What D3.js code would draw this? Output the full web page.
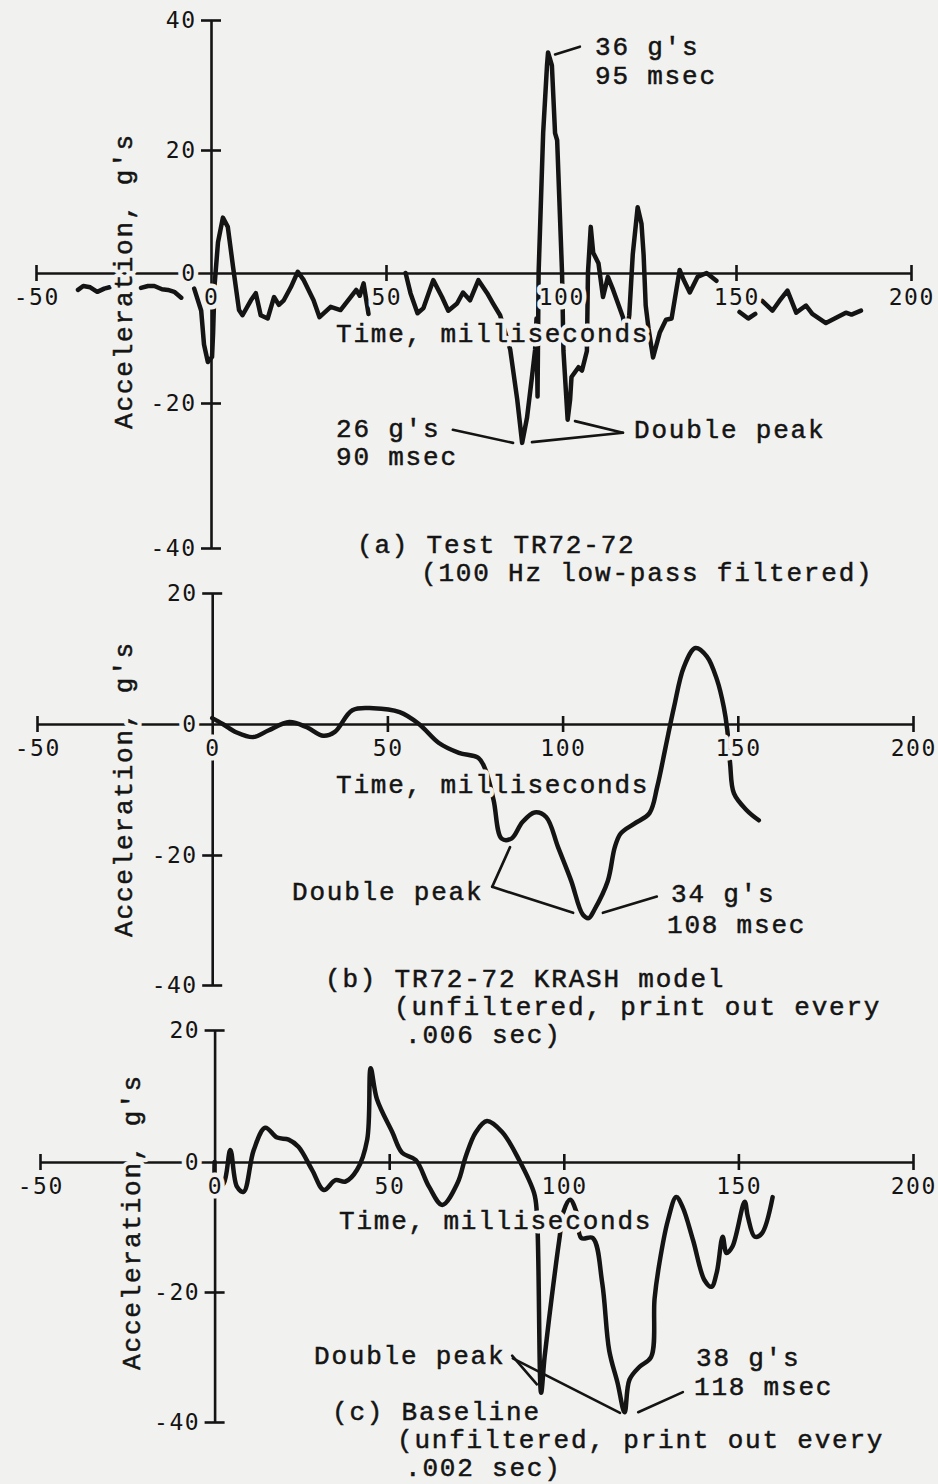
<!DOCTYPE html>
<html><head><meta charset="utf-8">
<script src="https://cdn.jsdelivr.net/npm/d3@7"></script>
<style>
html,body{margin:0;padding:0;background:#f1f1ef;}
svg{display:block;}
</style></head><body>
<svg id="chart" width="938" height="1484"></svg>
<script>
// ---------------- data ----------------
const xTickValues = [-50, 0, 50, 100, 150, 200];
const xTickLabels = ["-50", "0", "50", "100", "150", "200"];
const yTickValuesA = [40, 20, 0, -20, -40];
const yTickLabelsA = ["40", "20", "0", "-20", "-40"];
const yTickValuesBC = [20, 0, -20, -40];
const yTickLabelsBC = ["20", "0", "-20", "-40"];

const yTitle = "Acceleration, g's";
const xTitle = "Time, milliseconds";

// (a) Test TR72-72, null = pen lift
const timeA = [-38, -36.5, -34.5, -32.5, -30.5, -29, null,
  -20, -18, -16.2, -14, -12.3, -10.5, -8.5, null,
  -4.8, -2.8, -2.0, -0.9, 0.3, 0.6, 1.0, 2.0, 3.4, 4.8, 6.3, 8.0, 9.0, 11.4, 12.8, 14.2, 16.2, 18.0, 19.4, 20.8,
  22.8, 24.8, 26.5, 29.3, 31.0, 34.2, 37.0, 39.9, 41.5, 42.5, 43.6, 45.0, null,
  55.6, 57, 59, 60.7, 63.5, 66, 67.8, 70.3, 72, 74, 76.4, 78.9, 80.6, 82.6, 85.5, 87.5, 88.9, 90.3, 91.7, 92.6,
  93.0, 93.3, 93.6, 94.9, 96.0, 96.3, 97.4, 98.3, 98.9, 100.3, 100.7, 101.9, 102.6, 103, 105, 106, 107.4, 107.7,
  108.5, 109.2, 110.7, 112, 113.4, 114.9, 117.7, 118.6, 119.5, 120.5, 121.9, 123, 123.6, 124.2, 125, 126.3,
  128.2, 130, 131.6, 133.9, 135, 136.8, 139, 141.6, 144.4, null,
  151, 153.5, 155.5, null,
  157.5, 160.4, 162.4, 164.7, 167.2, 170, 171.8, 175.7, 178.6, 181.4, 183, 185.7];
const accelA = [-2.6, -2.0, -2.2, -2.9, -2.4, -2.2, null,
  -2.3, -2.0, -2.0, -2.5, -2.6, -2.9, -3.8, null,
  -2.4, -5.8, -11, -13.7, -12.9, -9.2, -2, 5, 9.0, 7.5, 1, -5.7, -6.5, -4.2, -3.1, -6.5, -7, -3.7, -4.9, -4.2,
  -2.2, 0.2, -1.1, -4.2, -6.8, -5.2, -5.7, -3.7, -2.6, -3.5, -1.6, -6.3, null,
  0, -3.1, -6.2, -5.4, -1.1, -3.7, -5.8, -4.7, -3, -4.2, -1.1, -3.1, -4.7, -6.5, -11.8, -19.5, -25.5, -22, -16, -11.8,
  -7, -19, 0, 22.6, 33, 35, 33, 22.6, 21.5, 0, -12, -22.3, -19.5, -16, -14.5, -15, -12, 0,
  7.5, 3.3, 1.6, -3.7, -0.6, -2.6, -6.8, -10, -6.5, 3, 10.7, 8, 3, -5, -8.5, -13,
  -9.2, -7.2, -7, 0.5, -1, -3, -0.6, 0, -1.2, null,
  -6, -7, -6.3, null,
  -4.3, -5.8, -4.3, -2.7, -6.1, -5, -6.3, -7.7, -6.9, -6.1, -6.4, -5.8];

// (b) TR72-72 KRASH model
const timeB = [0, 3, 7, 11.7, 16, 22, 27, 31.7, 35, 40, 46, 53.5, 59, 64.7, 70.4, 76, 78, 80.3, 82.6, 85.4, 88.5,
  92, 95.3, 98.7, 102.4, 105.8, 107.5, 109, 112.9, 114.9, 116.6, 120.5, 124.8, 127, 129.4, 131.8, 134.6, 137.9,
  141.2, 144.1, 146, 147, 147.8, 148.9, 152.6, 156];
const accelB = [0.9, 0, -1.3, -2, -1, 0.3, -0.5, -1.8, -1.2, 2.1, 2.4, 1.8, 0, -2.9, -4.4, -5.2, -7, -11.6, -17.5, -17.5, -15,
  -13.5, -14.2, -18.8, -23.9, -29.2, -29.7, -28.5, -24, -18.8, -16.7, -15.2, -13.6, -9.6, -3.5, 2.6, 8.7, 11.6,
  10.3, 6.7, 2.6, -0.9, -6, -10.6, -13.2, -14.7];

// (c) Baseline
const timeC = [0, 0.6, 2.6, 4.5, 6.4, 8.3, 11.2, 14.5, 17.9, 21.2, 24, 27.9, 31.3, 34.6, 37.5, 40.8, 43.7, 44.7, 46.5,
  50.9, 53.7, 57.6, 61.4, 65.2, 69.6, 71.9, 74.8, 78, 82.4, 87.2, 91.5, 92.3, 93.5, 94.5, 96.5, 98.7, 100, 101.8,
  103.5, 105, 108.3, 111, 113, 115.4, 117.4, 118.8, 121.7, 125, 126, 127.4, 129.8, 132.2, 134, 137, 140.3, 142.3,
  143.8, 145.5, 146.6, 148.3, 151.8, 152.7, 154.7, 156.7, 159.8];
const accelC = [0, -4, -3.3, 1.8, -3.8, -4.6, 1.8, 5.2, 3.7, 3.4, 2.3, -1.2, -4.3, -2.8, -3, -1.2, 3.4, 14.2, 9.5,
  4.5, 1.4, 0.3, -3.8, -6.6, -3.2, 0.8, 4.5, 6.2, 4.5, 0.3, -4.8, -8, -35.5, -30, -21, -12, -7.5, -5.8,
  -7.5, -11.7, -11.7, -18.6, -29, -34, -38.5, -33.5, -31.5, -30, -21, -15.5, -9, -5.4, -6.9, -12, -18.2, -19.2,
  -17, -11.5, -14, -13, -6.1, -8.4, -11.5, -11, -5.4];

// annotation texts
const notesA = ["36 g's", "95 msec", "26 g's", "90 msec", "Double peak"];
const captionA = ["(a) Test TR72-72", "(100 Hz low-pass filtered)"];
const notesB = ["Double peak", "34 g's", "108 msec"];
const captionB = ["(b) TR72-72 KRASH model", "(unfiltered, print out every", ".006 sec)"];
const notesC = ["Double peak", "38 g's", "118 msec"];
const captionC = ["(c) Baseline", "(unfiltered, print out every", ".002 sec)"];

// leader lines [t1, g1, t2, g2]
const leadersA = [[98.3, 34.7, 105.4, 35.9], [69.1, -23.7, 86.3, -25.5], [91.7, -25.4, 117.7, -24.1], [104, -22.5, 117.7, -24.1]];
const leadersB = [[79.9, -24.9, 85, -18.8], [79.9, -24.9, 103, -28.9], [111.5, -28.9, 126.9, -26.4]];
const leadersC = [[85.2, -29.8, 92.3, -34.2], [85.4, -30.2, 116.1, -38.6], [121.3, -38.5, 134.1, -35.4]];

// ---------------- layout ----------------
const BG = "#f1f1ef", INK = "#141414";
const monoFont = "'Liberation Mono', 'DejaVu Sans Mono', monospace";
const tickFont = "'DejaVu Sans Mono', monospace";
const TXT = { size: 26, ls: 1.8, family: monoFont };
const TCK = { size: 23, ls: 1.5, family: tickFont };

const panels = [
  { t: timeA, v: accelA, xr: [36, 911], yd: [-40, -20, 0, 20, 40], yr: [548, 403, 273, 150, 20],
    yTicks: yTickValuesA, yLabels: yTickLabelsA, curve: d3.curveLinear, lw: 4.5,
    yTitlePos: [132, 281], xTitlePos: [336, 342],
    notes: notesA, notePos: [[595, 55], [595, 84], [336, 437], [336, 465], [634, 438]],
    caption: captionA, capPos: [[357, 553], [421, 581]], leaders: leadersA },
  { t: timeB, v: accelB, xr: [37, 913], yd: [-40, -20, 0, 20], yr: [985, 855, 724, 593],
    yTicks: yTickValuesBC, yLabels: yTickLabelsBC, curve: d3.curveCatmullRom.alpha(0.5), lw: 4.5,
    yTitlePos: [132, 789], xTitlePos: [336, 793],
    notes: notesB, notePos: [[292, 900], [671, 902], [667, 933]],
    caption: captionB, capPos: [[325, 987], [394, 1015], [405, 1043]], leaders: leadersB },
  { t: timeC, v: accelC, xr: [40, 913], yd: [-40, -20, 0, 20], yr: [1422, 1292, 1162, 1030],
    yTicks: yTickValuesBC, yLabels: yTickLabelsBC, curve: d3.curveCatmullRom.alpha(0.5), lw: 4.5,
    yTitlePos: [140, 1222], xTitlePos: [339, 1229],
    notes: notesC, notePos: [[314, 1364], [696, 1366], [694, 1395]],
    caption: captionC, capPos: [[332, 1420], [397, 1448], [405, 1476]], leaders: leadersC }
];

const svg = d3.select("#chart");
svg.append("rect").attr("width", 938).attr("height", 1484).attr("fill", BG);
const layerAxes = svg.append("g");
const layerCurves = svg.append("g");
const layerHalo = svg.append("g");
const layerLeaders = svg.append("g");
const layerText = svg.append("g");

// draws a text twice: a background-coloured halo (erases lines beneath) and the ink text
function addText(str, x, y, f, opts = {}) {
  [layerHalo, layerText].forEach((layer, k) => {
    const t = layer.append("text").text(str)
      .attr("font-family", f.family).attr("font-size", f.size).attr("letter-spacing", f.ls)
      .attr("text-anchor", opts.anchor || "start");
    if (opts.rotate) t.attr("transform", `translate(${x},${y}) rotate(${opts.rotate})`);
    else t.attr("x", x).attr("y", y);
    if (k === 0) t.attr("fill", BG).attr("stroke", BG).attr("stroke-width", 9).attr("stroke-linejoin", "round");
    else t.attr("fill", INK).attr("stroke", INK).attr("stroke-width", opts.bold === false ? 0 : 0.5);
  });
}

panels.forEach(p => {
  const x = d3.scaleLinear().domain([-50, 200]).range(p.xr);
  const y = d3.scaleLinear().domain(p.yd).range(p.yr);
  const x0 = x(0), y0 = y(0);

  // x axis (line + crossing ticks)
  const xAxis = d3.axisBottom(x).tickValues(xTickValues).tickFormat((d, i) => xTickLabels[i])
    .tickSizeOuter(0).tickSizeInner(8);
  const gxl = layerAxes.append("g").attr("transform", `translate(0,${y0})`).call(xAxis);
  gxl.select(".domain").attr("stroke", INK).attr("stroke-width", 2.6);
  gxl.selectAll(".tick line").attr("y1", -8).attr("y2", 8).attr("stroke", INK).attr("stroke-width", 2.6)
    .filter(d => d === 0).remove();
  gxl.selectAll(".tick").each(function (d, i) {
    addText(xTickLabels[i], x(d) + TCK.ls / 2, y0 + 32, TCK, { anchor: "middle", bold: false });
  });
  gxl.selectAll("text").remove();

  // y axis
  const yAxis = d3.axisLeft(y).tickValues(p.yTicks).tickFormat((d, i) => p.yLabels[i])
    .tickSizeOuter(0).tickSizeInner(10);
  const gyl = layerAxes.append("g").attr("transform", `translate(${x0},0)`).call(yAxis);
  gyl.select(".domain").attr("stroke", INK).attr("stroke-width", 2.6);
  gyl.selectAll(".tick line").attr("x1", -10).attr("x2", 10).attr("stroke", INK).attr("stroke-width", 2.6)
    .filter(d => d === 0).remove();
  gyl.selectAll(".tick").each(function (d, i) {
    addText(p.yLabels[i], x0 - 16 + TCK.ls, y(d) + 8, TCK, { anchor: "end", bold: false });
  });
  gyl.selectAll("text").remove();

  // curve
  const pts = p.t.map((t, i) => ({ t, v: p.v[i] }));
  const line = d3.line().defined(d => d.t != null && d.v != null)
    .x(d => x(d.t)).y(d => y(d.v)).curve(p.curve);
  layerCurves.append("path").datum(pts).attr("d", line).attr("fill", "none")
    .attr("stroke", INK).attr("stroke-width", p.lw).attr("stroke-linejoin", "round").attr("stroke-linecap", "round");

  // titles
  addText(yTitle, p.yTitlePos[0], p.yTitlePos[1], TXT, { anchor: "middle", rotate: -90 });
  addText(xTitle, p.xTitlePos[0], p.xTitlePos[1], TXT);

  // notes & captions
  p.notes.forEach((n, i) => addText(n, p.notePos[i][0], p.notePos[i][1], TXT));
  p.caption.forEach((n, i) => addText(n, p.capPos[i][0], p.capPos[i][1], TXT));

  // leaders
  layerLeaders.selectAll(null).data(p.leaders).enter().append("line")
    .attr("x1", d => x(d[0])).attr("y1", d => y(d[1]))
    .attr("x2", d => x(d[2])).attr("y2", d => y(d[3]))
    .attr("stroke", INK).attr("stroke-width", 2.6).attr("stroke-linecap", "round");
});
</script>
</body></html>
